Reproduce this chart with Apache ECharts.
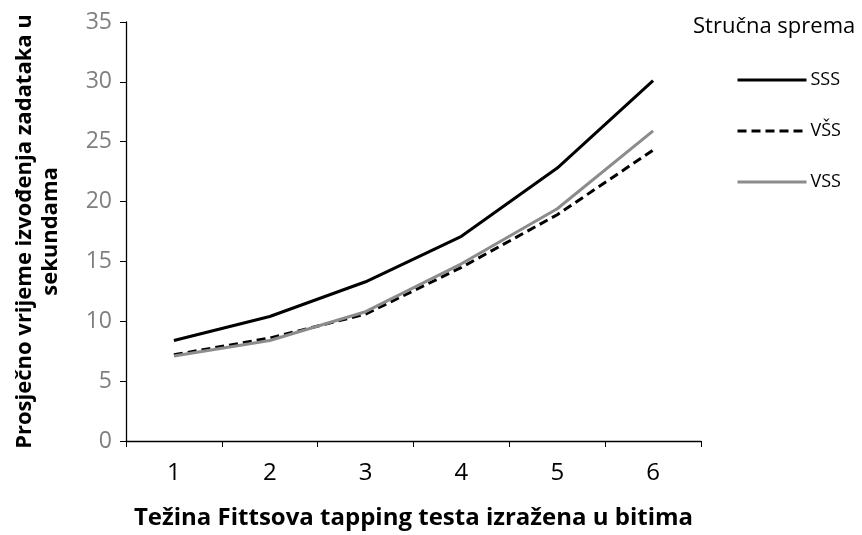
<!DOCTYPE html>
<html><head><meta charset="utf-8">
<script src="https://cdn.jsdelivr.net/npm/echarts@6/dist/echarts.min.js"></script>
<style>html,body{margin:0;padding:0;background:#fff}#c{width:862px;height:535px}</style>
</head><body><div id="c"></div>
<script>
const categories = ['1','2','3','4','5','6'];
const sss = [8.4, 10.4, 13.3, 17.1, 22.8, 30.1];
const vss_hat = [7.2, 8.6, 10.6, 14.5, 18.9, 24.3];
const vss = [7.1, 8.4, 10.8, 14.8, 19.4, 25.9];
const seriesNames = ['SSS', 'VŠS', 'VSS'];
const yTicks = [0, 5, 10, 15, 20, 25, 30, 35];

const font = '"Open Sans", Calibri, sans-serif';
const chart = echarts.init(document.getElementById('c'));
chart.setOption({
  animation: false,
  grid: { left: 126, right: 161, top: 22, bottom: 94, containLabel: false, outerBoundsMode: 'none' },
  legend: {
    orient: 'vertical', left: 736, top: 71, itemGap: 33, padding: 0,
    itemWidth: 69, itemHeight: 14,
    itemStyle: { opacity: 0 },
    lineStyle: { width: 3 },
    textStyle: { fontFamily: font, fontSize: 18, color: '#000', padding: [0, 0, 0, -1] },
    data: seriesNames
  },
  graphic: [{
    type: 'text', left: 693, top: 16,
    style: { text: 'Stručna sprema', fontFamily: font, fontSize: 22, fill: '#000' }
  }],
  xAxis: {
    type: 'category', data: categories, boundaryGap: true,
    name: 'Težina Fittsova tapping testa izražena u bitima',
    nameLocation: 'middle', nameGap: 65,
    nameTextStyle: { fontFamily: font, fontSize: 24, fontWeight: 'bold', color: '#000' },
    axisLine: { lineStyle: { color: '#000', width: 1.3 } },
    axisTick: { show: true, alignWithLabel: false, length: 6, lineStyle: { color: '#000' } },
    axisLabel: { fontFamily: font, fontSize: 24, color: '#000', margin: 20 }
  },
  yAxis: {
    type: 'value', min: 0, max: 35, interval: 5,
    name: 'Prosječno vrijeme izvođenja zadataka u\nsekundama',
    nameLocation: 'middle', nameGap: 62, nameRotate: 90,
    nameTextStyle: { fontFamily: font, fontSize: 22, fontWeight: 'bold', color: '#000', lineHeight: 26 },
    axisLine: { show: true, lineStyle: { color: '#000', width: 1.3 } },
    axisTick: { show: true, length: 6, lineStyle: { color: '#000' } },
    splitLine: { show: false },
    axisLabel: { fontFamily: font, fontSize: 23, color: '#7f7f7f', margin: 14,
      formatter: v => yTicks.includes(v) ? String(v) : '' }
  },
  series: [
    { name: seriesNames[0], type: 'line', data: sss, symbol: 'none',
      lineStyle: { color: '#000', width: 3 }, itemStyle: { color: '#000' } },
    { name: seriesNames[1], type: 'line', data: vss_hat, symbol: 'none',
      lineStyle: { color: '#000', width: 3, type: [9, 5] }, itemStyle: { color: '#000' } },
    { name: seriesNames[2], type: 'line', data: vss, symbol: 'none',
      lineStyle: { color: '#8c8c8c', width: 3 }, itemStyle: { color: '#8c8c8c' } }
  ]
});
</script></body></html>
